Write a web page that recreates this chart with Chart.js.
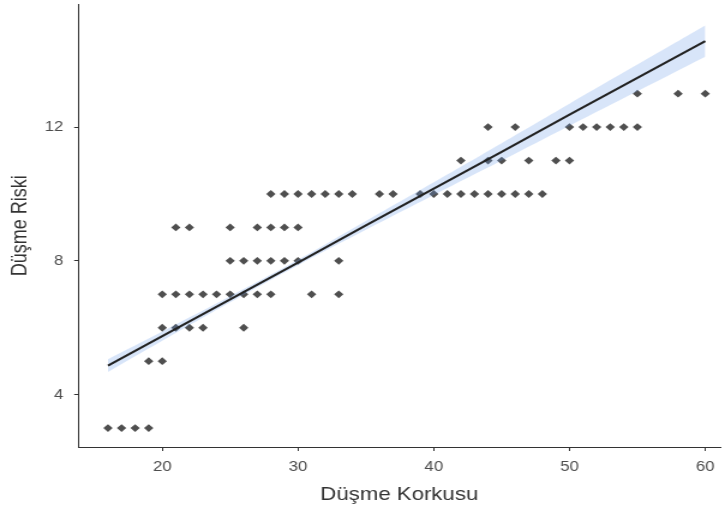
<!DOCTYPE html>
<html>
<head>
<meta charset="utf-8">
<script src="https://cdn.jsdelivr.net/npm/chart.js@4.4.0/dist/chart.umd.min.js"></script>
<style>
html,body{margin:0;padding:0;background:#fff;overflow:hidden;}
#wrap{width:604px;height:511px;transform:scaleX(1.2003);transform-origin:0 0;}
</style>
</head>
<body>
<div id="wrap"><canvas id="c" width="604" height="511"></canvas></div>
<script>
// Observed points: Düşme Korkusu (x) and Düşme Riski (y)
const fearX = [16,17,18,19,
  19,20,
  20,21,22,23,26,
  20,21,22,23,24,25,26,27,28,31,33,
  25,26,27,28,29,30,33,
  21,22,25,27,28,29,30,
  28,29,30,31,32,33,34,36,37,39,40,41,42,43,44,45,46,47,48,
  42,44,45,47,49,50,
  44,46,50,51,52,53,54,55,
  55,58,60];
const riskY = [3,3,3,3,
  5,5,
  6,6,6,6,6,
  7,7,7,7,7,7,7,7,7,7,7,
  8,8,8,8,8,8,8,
  9,9,9,9,9,9,9,
  10,10,10,10,10,10,10,10,10,10,10,10,10,10,10,10,10,10,10,
  11,11,11,11,11,11,
  12,12,12,12,12,12,12,12,
  13,13,13];
// Fitted line and confidence band
const fitX     = [16,   20,   25,   30,   35,   40,    45,    50,    55,    60];
const fitY     = [4.87, 5.75, 6.85, 7.95, 9.06, 10.16, 11.26, 12.37, 13.47, 14.57];
const bandLow  = [4.68, 5.61, 6.76, 7.87, 8.93, 9.97,  11.00, 12.04, 13.07, 14.10];
const bandHigh = [5.06, 5.89, 6.94, 8.03, 9.19, 10.35, 11.52, 12.70, 13.87, 15.04];
const xTicks = [20,30,40,50,60];
const yTicks = [4,8,12];

const xy = (xs, ys) => xs.map((x,i) => ({x: x, y: ys[i]}));
const FONT = "'Liberation Sans', Arial, sans-serif";
const AX = '#333333';

new Chart(document.getElementById('c'), {
  type: 'scatter',
  data: {
    datasets: [
      { type:'line', data: xy(fitX, fitY), borderColor:'#222222', borderWidth:2,
        pointRadius:0, fill:false, tension:0, order:0 },
      { type:'line', data: xy(fitX, bandHigh), borderWidth:0, borderColor:'rgba(0,0,0,0)',
        pointRadius:0, fill:'+1', backgroundColor:'rgba(100,150,230,0.25)', tension:0.4, order:1 },
      { type:'line', data: xy(fitX, bandLow), borderWidth:0, borderColor:'rgba(0,0,0,0)',
        pointRadius:0, fill:false, tension:0.4, order:1 },
      { type:'scatter', data: xy(fearX, riskY), pointStyle:'rectRot', pointRadius:3.9,
        backgroundColor:'rgba(40,40,40,0.82)', borderWidth:0, order:2 }
    ]
  },
  options: {
    responsive:false, animation:false, devicePixelRatio:1,
    layout:{ padding:{ top:3.3, right:0, bottom:0, left:0 } },
    plugins:{ legend:{display:false}, tooltip:{enabled:false} },
    scales:{
      x:{ type:'linear', min:13.82, max:61.1,
        afterBuildTicks: s => { s.ticks = xTicks.map(v => ({value:v})); },
        afterFit: s => { s.height = 63.5; s.paddingLeft = 0; s.paddingRight = 0; s.paddingTop = 0; s.paddingBottom = 0; },
        grid:{ display:true, drawOnChartArea:false, drawTicks:true, tickLength:3.5, tickColor:AX, color:AX },
        border:{ display:true, color:AX, width:1 },
        ticks:{ color:'#4d4d4d', font:{ family:FONT, size:14 }, padding:7.5, maxRotation:0 },
        title:{ display:true, text:'Düşme Korkusu', color:'#333333', font:{ family:FONT, size:18.5 }, padding:{ top:0, bottom:5 } }
      },
      y:{ type:'linear', min:2.42, max:15.68,
        afterBuildTicks: s => { s.ticks = yTicks.map(v => ({value:v})); },
        afterFit: s => { s.width = 65.3; s.paddingTop = 0; s.paddingBottom = 0; s.paddingLeft = 0; s.paddingRight = 0; },
        grid:{ display:true, drawOnChartArea:false, drawTicks:true, tickLength:3.5, tickColor:AX, color:AX },
        border:{ display:true, color:AX, width:1 },
        ticks:{ color:'#4d4d4d', font:{ family:FONT, size:14 }, padding:9 },
        title:{ display:true, text:'Düşme Riski', color:'#333333', font:{ family:FONT, size:18 }, padding:{ top:6.7, bottom:0 } }
      }
    }
  }
});
</script>
</body>
</html>
